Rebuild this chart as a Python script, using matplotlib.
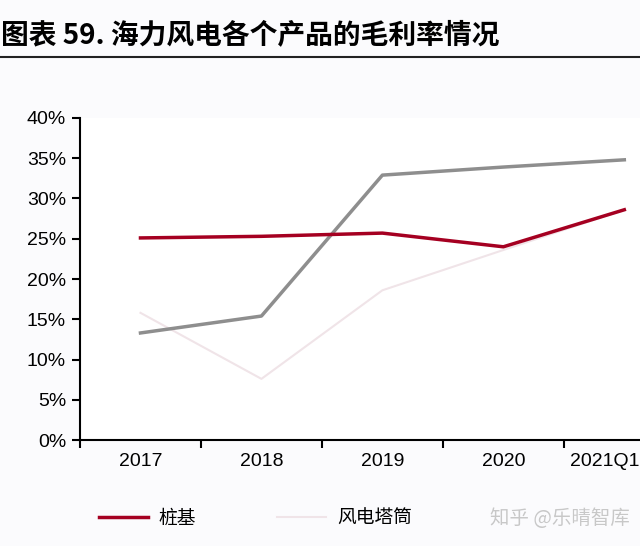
import matplotlib.pyplot as plt
import matplotlib.transforms as mtransforms
from matplotlib.ticker import PercentFormatter, FixedLocator
from matplotlib.lines import Line2D

plt.rcParams['font.family'] = ['Liberation Sans', 'Noto Sans CJK SC', 'DejaVu Sans']

years = ["2017", "2018", "2019", "2020", "2021Q1"]
zhuangji = [25.1, 25.3, 25.7, 24.0, 28.6]      # 桩基
tatong = [15.8, 7.6, 18.6, 23.6, 28.6]         # 风电塔筒
daoguanjia = [13.3, 15.4, 32.9, 33.9, 34.8]    # 导管架 (legend hidden under watermark)

fig = plt.figure(figsize=(6.4, 5.46), dpi=100)
fig.patch.set_facecolor("#fbfbfd")

# title + rule under it
fig.text(0.002, 0.935, "图表 59. 海力风电各个产品的毛利率情况", fontsize=20, fontweight="bold",
         family=["Noto Sans CJK SC"], va="center", ha="left")
fig.add_artist(Line2D([0, 1], [0.895, 0.895], color="#222222", lw=1.5))

ax = fig.add_axes([0.125, 0.194, 0.945, 0.590])
ax.set_facecolor("white")
x = list(range(len(years)))
ax.plot(x, tatong, color="#f0e4e8", lw=1.5, label="风电塔筒")
ax.plot(x, daoguanjia, color="#8e8e8e", lw=2.5, label="导管架")
ax.plot(x, zhuangji, color="#a50021", lw=2.5, label="桩基")

ax.set_xlim(-0.5, len(years) - 0.5)
ax.set_ylim(0, 40)
ax.yaxis.set_major_formatter(PercentFormatter(decimals=0))
ax.set_yticks(range(0, 41, 5))
ax.set_xticks(x)
ax.set_xticklabels(years)
ax.xaxis.set_minor_locator(FixedLocator([i - 0.5 for i in range(len(years) + 1)]))
ax.tick_params(axis="x", which="major", length=0, pad=9, labelsize=14)
ax.tick_params(axis="x", which="minor", length=6, width=1.5, direction="out")
ax.tick_params(axis="y", length=6, width=1.5, direction="out", labelsize=14, pad=4)
for s in ["top", "right"]:
    ax.spines[s].set_visible(False)
for s in ["left", "bottom"]:
    ax.spines[s].set_linewidth(1.5)

# last label sits against the right edge in the reference
last = ax.get_xticklabels()[-1]
last.set_transform(last.get_transform() + mtransforms.ScaledTranslation(-20 / 100, 0, fig.dpi_scale_trans))

# legend at bottom (third entry covered by watermark)
h = ax.get_lines()
fig.legend([h[2], h[0]], ["桩基", "风电塔筒"], loc="center left", bbox_to_anchor=(0.128, 0.051),
           ncol=2, frameon=False, handlelength=2.6, handletextpad=0.6, columnspacing=4.3,
           prop={"family": "Noto Sans CJK SC", "size": 13.5})
fig.text(0.765, 0.051, "知乎 @乐晴智库", fontsize=14, color="#c8c8c8",
         family=["Noto Sans CJK SC"], va="center", ha="left")

fig.savefig("out.png", dpi=100, facecolor=fig.get_facecolor())
